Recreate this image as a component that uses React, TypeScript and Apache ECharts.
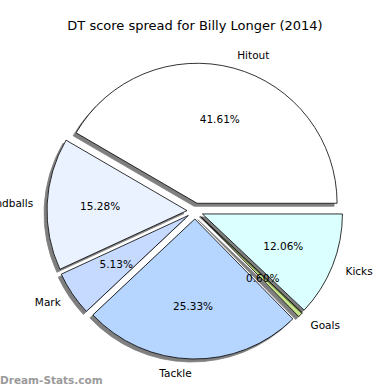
import React, { useEffect, useRef } from "react";
import * as echarts from "echarts";

const categories = ["Hitout", "Handballs", "Mark", "Tackle", "Goals", "Kicks"];
const percents = [41.61, 15.28, 5.13, 25.33, 0.6, 12.06];
const colors = ["#ffffff", "#ebf2ff", "#c6daff", "#b6d6ff", "#c8e68a", "#dbffff"];
const titleText = "DT score spread for Billy Longer (2014)";
const watermark = "Dream-Stats.com";

export default function App() {
  const ref = useRef<HTMLDivElement>(null);
  useEffect(() => {
    if (!ref.current) return;
    const chart = echarts.init(ref.current, null, { renderer: "svg" });
    const font = "DejaVu Sans";
    const center = [195, 211];
    const R = 140;
    const offset = 8;
    const mainData = categories.map((c, i) => ({
      name: c,
      value: percents[i],
      selected: true,
      itemStyle: { color: colors[i] },
    }));
    const pctData = categories.map((c, i) => ({
      name: c,
      value: percents[i],
      selected: true,
    }));
    chart.setOption({
      animation: false,
      backgroundColor: "#ffffff",
      title: {
        text: titleText,
        left: "center",
        top: 14,
        textStyle: { fontFamily: font, fontSize: 13, fontWeight: "normal", color: "#000" },
      },
      graphic: [
        {
          type: "text",
          left: 0,
          top: 374,
          style: { text: watermark, fill: "#9a9a9a", font: "bold 10.5px 'DejaVu Sans'" },
        },
      ],
      series: [
        {
          type: "pie",
          center,
          radius: R,
          startAngle: 0,
          clockwise: false,
          selectedMode: "multiple",
          selectedOffset: offset,
          avoidLabelOverlap: false,
          silent: true,
          itemStyle: {
            borderColor: "#000",
            borderWidth: 0.8,
            shadowColor: "rgba(0,0,0,0.5)",
            shadowBlur: 0,
            shadowOffsetX: -3,
            shadowOffsetY: 3,
          },
          label: {
            show: true,
            position: "outside",
            formatter: "{b}",
            fontFamily: font,
            fontSize: 10.5,
            color: "#000",
            distanceToLabelLine: 0,
          },
          labelLine: { show: false, length: 14, length2: 0 },
          data: mainData,
          z: 1,
        },
        {
          type: "pie",
          center,
          radius: R * 1.2,
          startAngle: 0,
          clockwise: false,
          selectedMode: "multiple",
          selectedOffset: offset,
          avoidLabelOverlap: false,
          silent: true,
          itemStyle: { color: "rgba(0,0,0,0)", borderWidth: 0 },
          label: {
            show: true,
            position: "inside",
            formatter: (p: any) => p.value.toFixed(2) + "%",
            fontFamily: font,
            fontSize: 10.5,
            color: "#000",
          },
          labelLine: { show: false },
          data: pctData,
          z: 2,
        },
      ],
    });
    return () => chart.dispose();
  }, []);
  return (
    <div
      ref={ref}
      style={{ position: "fixed", left: 0, top: 0, width: 390, height: 390 }}
    />
  );
}
